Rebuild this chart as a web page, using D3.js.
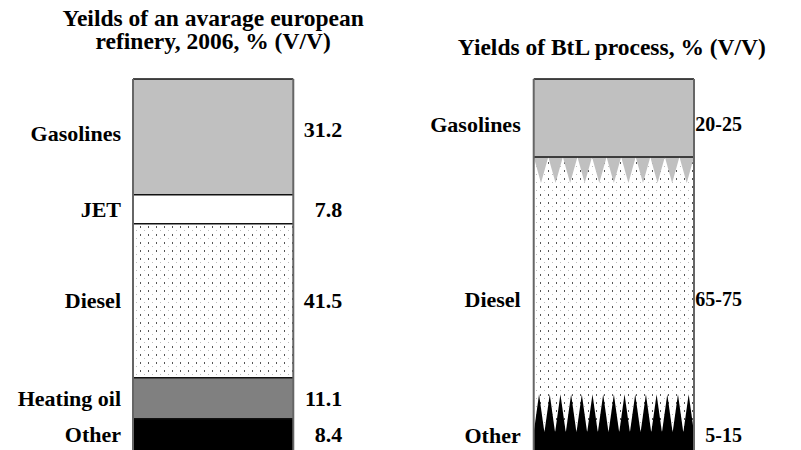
<!DOCTYPE html>
<html>
<head>
<meta charset="utf-8">
<script src="https://cdn.jsdelivr.net/npm/d3@7"></script>
<style>
  body { margin: 0; background: #fff; }
</style>
</head>
<body>
<script>
// refinery yields, % (V/V)
var refineryProducts = ["Gasolines", "JET", "Diesel", "Heating oil", "Other"];
var refineryYields = [31.2, 7.8, 41.5, 11.1, 8.4];
var refineryColors = ["#c0c0c0", "#ffffff", "dots", "#808080", "#000000"];

// BtL yields, ranges
var btlProducts = ["Gasolines", "Diesel", "Other"];
var btlLabels = ["20-25", "65-75", "5-15"];
// fuzzy boundaries as drawn (cumulative %, from top): gasolines/diesel, diesel/other
var btlTransitions = [[21, 28], [85, 95]];

var titles = ["Yeilds of an avarage european|refinery, 2006, % (V/V)", "Yields of BtL process, % (V/V)"];
var bars = ["refinery", "btl"];

var width = 801,
    height = 450;

var svg = d3.select("body")
    .append("svg")
    .attr("width", width)
    .attr("height", height)
    .attr("font-family", "'Liberation Serif', 'DejaVu Serif', 'Times New Roman', serif")
    .attr("font-weight", "bold");

var defs = svg.append("defs");
var pat = defs.append("pattern")
    .attr("id", "dots")
    .attr("patternUnits", "userSpaceOnUse")
    .attr("width", 8)
    .attr("height", 8);
pat.append("rect").attr("width", 8).attr("height", 8).attr("fill", "#fff");
pat.append("rect").attr("x", 4).attr("y", 2).attr("width", 1).attr("height", 2).attr("fill", "#555");
pat.append("rect").attr("x", 0).attr("y", 6).attr("width", 1).attr("height", 1).attr("fill", "#bbb");

var x = d3.scaleBand()
    .domain(bars)
    .range([133, 694])
    .paddingInner(0.6);

var y = d3.scaleLinear()
    .domain([0, 100])
    .range([79, 450]);

var bw = x.bandwidth();
var fs = "22px",
    tfs = "23.5px";

function fillOf(c){ return c == "dots" ? "url(#dots)" : c; }

//---- left bar: stacked refinery yields
var cum = 0;
var segs = refineryYields.map(function(v, i){
    var s = {name: refineryProducts[i], value: v, y0: cum, y1: cum + v, color: refineryColors[i]};
    cum += v;
    return s;
});

var left = svg.append("g");
left.selectAll("rect.seg")
    .data(segs)
    .enter()
    .append("rect")
    .attr("class", "seg")
    .attr("x", x("refinery"))
    .attr("y", function(d){ return y(d.y0); })
    .attr("width", bw)
    .attr("height", function(d){ return y(d.y1) - y(d.y0); })
    .attr("fill", function(d){ return fillOf(d.color); });

left.selectAll("line.sep")
    .data(segs)
    .enter()
    .append("line")
    .attr("x1", x("refinery"))
    .attr("x2", x("refinery") + bw)
    .attr("y1", function(d){ return y(d.y0); })
    .attr("y2", function(d){ return y(d.y0); })
    .attr("stroke", "#111")
    .attr("stroke-width", 1.5);

left.selectAll("line.side")
    .data([0, bw])
    .enter()
    .append("line")
    .attr("x1", function(d){ return x("refinery") + d; })
    .attr("x2", function(d){ return x("refinery") + d; })
    .attr("y1", y(0))
    .attr("y2", y(100))
    .attr("stroke", "#666")
    .attr("stroke-width", 2);

left.selectAll("text.name")
    .data(segs)
    .enter()
    .append("text")
    .attr("x", x("refinery") - 12)
    .attr("y", function(d, i){ return y((d.y0 + d.y1) / 2) - (i == 0 ? 4 : 0); })
    .attr("dy", "0.35em")
    .attr("text-anchor", "end")
    .style("font-size", fs)
    .text(function(d){ return d.name; });

left.selectAll("text.val")
    .data(segs)
    .enter()
    .append("text")
    .attr("x", x("refinery") + bw + 49)
    .attr("y", function(d, i){ return y((d.y0 + d.y1) / 2) - (i == 0 ? 8 : 0); })
    .attr("dy", "0.35em")
    .attr("text-anchor", "end")
    .style("font-size", fs)
    .text(function(d){ return d.value.toFixed(1); });

//---- right bar: BtL ranges with jagged boundaries
var bx = x("btl");
var right = svg.append("g");

right.append("rect")
    .attr("x", bx).attr("y", y(0))
    .attr("width", bw).attr("height", y(100) - y(0))
    .attr("fill", "url(#dots)");

var gasT = btlTransitions[0],
    othT = btlTransitions[1];

right.append("rect")
    .attr("x", bx).attr("y", y(0))
    .attr("width", bw).attr("height", y(gasT[0]) - y(0))
    .attr("fill", "#c0c0c0");

// gasoline teeth hanging down
var nTop = 11, tw = bw / nTop;
right.selectAll("path.gtooth")
    .data(d3.range(nTop))
    .enter()
    .append("path")
    .attr("d", function(i){
        var a = bx + i * tw;
        return "M" + a + "," + y(gasT[0]) + "L" + (a + tw) + "," + y(gasT[0]) + "L" + (a + tw / 2) + "," + y(gasT[1]) + "Z";
    })
    .attr("fill", "#c0c0c0");

right.append("rect")
    .attr("x", bx).attr("y", y(othT[1]))
    .attr("width", bw).attr("height", y(100) - y(othT[1]))
    .attr("fill", "#000");

// other spikes pointing up
var nBot = 15, sw = bw / nBot;
right.selectAll("path.otooth")
    .data(d3.range(nBot))
    .enter()
    .append("path")
    .attr("d", function(i){
        var a = bx + i * sw;
        return "M" + a + "," + (y(othT[1]) + 1) + "L" + (a + sw) + "," + (y(othT[1]) + 1) + "L" + (a + sw / 2) + "," + y(othT[0]) + "Z";
    })
    .attr("fill", "#000");

right.selectAll("line.sep")
    .data([0, gasT[0]])
    .enter()
    .append("line")
    .attr("x1", bx).attr("x2", bx + bw)
    .attr("y1", function(d){ return y(d); })
    .attr("y2", function(d){ return y(d); })
    .attr("stroke", "#111")
    .attr("stroke-width", 1.5);

right.selectAll("line.side")
    .data([0, bw])
    .enter()
    .append("line")
    .attr("x1", function(d){ return bx + d; })
    .attr("x2", function(d){ return bx + d; })
    .attr("y1", y(0))
    .attr("y2", y(100))
    .attr("stroke", "#666")
    .attr("stroke-width", 2);

var gasMid = (gasT[0] + gasT[1]) / 2,
    othMid = (othT[0] + othT[1]) / 2;
var btlCenters = [gasMid / 2, (gasMid + othMid) / 2 + 2, (othMid + 100) / 2 + 1];

right.selectAll("text.name")
    .data(btlProducts)
    .enter()
    .append("text")
    .attr("x", bx - 13)
    .attr("y", function(d, i){ return y(btlCenters[i]); })
    .attr("dy", "0.35em")
    .attr("text-anchor", "end")
    .style("font-size", fs)
    .text(function(d){ return d; });

right.selectAll("text.val")
    .data(btlLabels)
    .enter()
    .append("text")
    .attr("x", bx + bw + 48)
    .attr("y", function(d, i){ return y(btlCenters[i]); })
    .attr("dy", "0.35em")
    .attr("text-anchor", "end")
    .style("font-size", "20px")
    .text(function(d){ return d; });

//---- titles
titles[0].split("|").forEach(function(s, i){
    svg.append("text")
        .attr("x", x("refinery") + bw / 2)
        .attr("y", 26 + i * 23)
        .attr("text-anchor", "middle")
        .style("font-size", tfs)
        .text(s);
});

svg.append("text")
    .attr("x", bx + bw / 2 - 2)
    .attr("y", 55)
    .attr("text-anchor", "middle")
    .style("font-size", tfs)
    .text(titles[1]);
</script>
</body>
</html>
